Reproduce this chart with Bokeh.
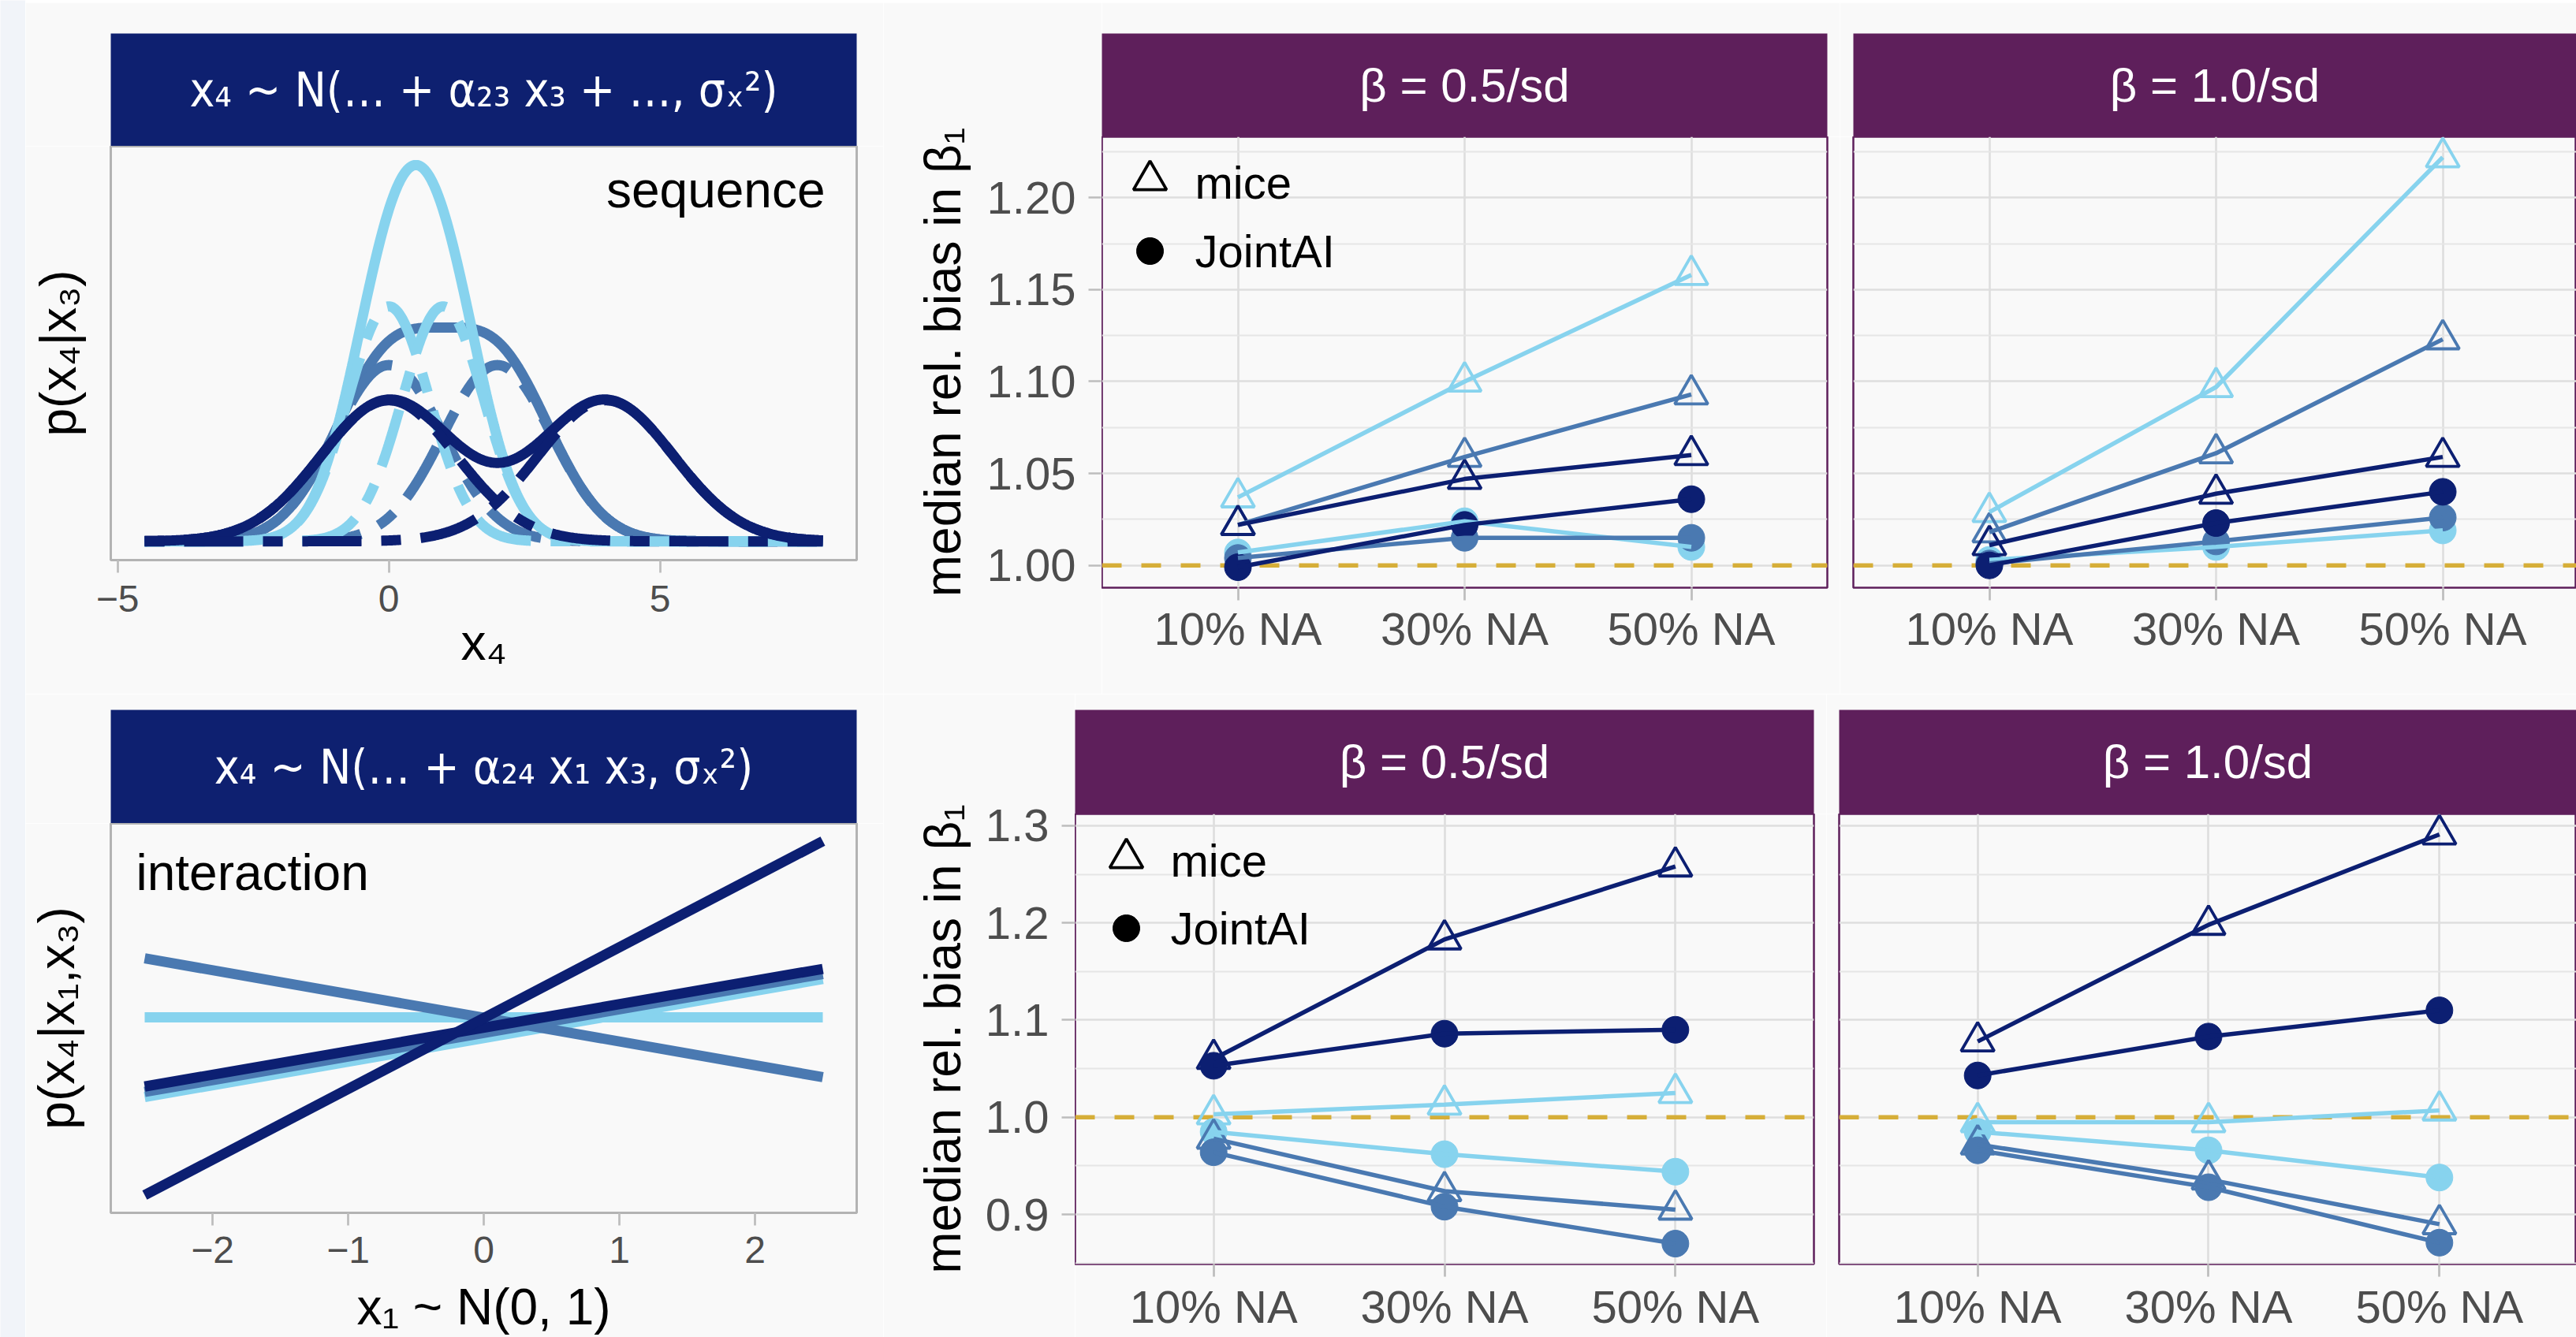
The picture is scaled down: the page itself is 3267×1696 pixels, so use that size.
import math
import numpy as np
from bokeh.plotting import figure
from bokeh.layouts import row, column
from bokeh.models import Range1d, FixedTicker, Span, Label, NumeralTickFormatter
from bokeh.embed import file_html
from bokeh.resources import INLINE

FONT = "Liberation Sans"
HFONT = "DejaVu Sans Condensed"
BG = "#f9f9f9"
LIGHT, MED, NAVY = "#87d3ee", "#4a79b1", "#0c1f72"
STRIP_NAVY, STRIP_PURPLE = "#0e2070", "#5e1f5b"
GOLD = "#d6ae38"
GRID_MAJOR, GRID_MINOR = "#dedede", "#e6e6e6"
TICK = "#bdbdbd"
TXT = "#4d4d4d"

# ---------------------------------------------------------------- data
na_labels = ["10% NA", "30% NA", "50% NA"]
na_pos = [1, 2, 3]

# sequence scenario, beta = 0.5/sd
seq05_mice_light = [1.037, 1.100, 1.158]
seq05_mice_med = [1.022, 1.059, 1.093]
seq05_mice_navy = [1.022, 1.047, 1.060]
seq05_joint_light = [1.007, 1.024, 1.010]
seq05_joint_med = [1.004, 1.015, 1.015]
seq05_joint_navy = [0.999, 1.022, 1.036]
# sequence scenario, beta = 1.0/sd
seq10_mice_light = [1.029, 1.097, 1.222]
seq10_mice_med = [1.018, 1.061, 1.123]
seq10_mice_navy = [1.011, 1.039, 1.059]
seq10_joint_light = [1.003, 1.010, 1.019]
seq10_joint_med = [1.001, 1.013, 1.026]
seq10_joint_navy = [1.000, 1.023, 1.040]
# interaction scenario, beta = 0.5/sd
int05_mice_light = [1.003, 1.013, 1.025]
int05_mice_med = [0.978, 0.924, 0.905]
int05_mice_navy = [1.060, 1.183, 1.258]
int05_joint_light = [0.985, 0.962, 0.944]
int05_joint_med = [0.964, 0.908, 0.870]
int05_joint_navy = [1.053, 1.086, 1.090]
# interaction scenario, beta = 1.0/sd
int10_mice_light = [0.995, 0.995, 1.007]
int10_mice_med = [0.972, 0.936, 0.890]
int10_mice_navy = [1.078, 1.198, 1.291]
int10_joint_light = [0.985, 0.966, 0.938]
int10_joint_med = [0.966, 0.928, 0.871]
int10_joint_navy = [1.043, 1.083, 1.110]

seq_yticks = [1.00, 1.05, 1.10, 1.15, 1.20]
int_yticks = [0.9, 1.0, 1.1, 1.2, 1.3]

# illustration "sequence": p(x4|x3) = 0.5 N(0, sd) + 0.5 N(shift, sd)
dens_shift = [1, 2, 4]          # light, medium, navy
dens_sd = [0.75, 1.0, 1.25]
dens_weight = [0.5, 0.5]
dens_xlim = [-4.5, 8.0]
seq_xticks = [-5, 0, 5]

# illustration "interaction": lines evaluated at x1 = -2.5 and 2.5
int_x1 = [-2.5, 2.5]
int_light_flat = [0.501, 0.501]
int_light_up = [0.297, 0.599]
int_med_down = [0.652, 0.348]
int_med_up = [0.310, 0.612]
int_navy_up = [0.324, 0.625]
int_navy_steep = [0.046, 0.952]
int_xticks = [-2, -1, 0, 1, 2]


def expand(lo, hi, f=0.05):
    r = hi - lo
    return lo - f * r, hi + f * r


def base_fig(width, height, xr, yr, left, right, top, bottom, yaxis=True, xaxis=True):
    p = figure(width=width, height=height, x_range=xr, y_range=yr,
               x_axis_location="below" if xaxis else None,
               y_axis_location="left" if yaxis else None,
               toolbar_location=None, output_backend="svg", title=None,
               min_border_left=left, min_border_right=right,
               min_border_top=top, min_border_bottom=bottom,
               background_fill_color=BG, border_fill_color=BG)
    return p


def blank(width, height, color):
    b = base_fig(width, height, Range1d(0, 1), Range1d(0, 1), 0, 0, 0, 0,
                 yaxis=False, xaxis=False)
    b.background_fill_color = color
    b.border_fill_color = color
    b.outline_line_color = None
    b.xgrid.visible = False
    b.ygrid.visible = False
    return b


def header(width, height, left, right, top, fill, text, size, font=FONT):
    h = base_fig(width, height, Range1d(0, 1), Range1d(0, 1), left, right, top, 0,
                 yaxis=False, xaxis=False)
    h.background_fill_color = fill
    h.outline_line_color = None
    h.xgrid.visible = False
    h.ygrid.visible = False
    h.add_layout(Label(x=0.5, y=0.5, text=text, text_align="center",
                       text_baseline="middle", text_color="white",
                       text_font_size=f"{size}px", text_font=font))
    return h


def style_axis_label(ax, text, standoff, size=64):
    ax.axis_label = text
    ax.axis_label_text_font = FONT
    ax.axis_label_text_font_size = f"{size}px"
    ax.axis_label_text_font_style = "normal"
    ax.axis_label_text_color = "black"
    ax.axis_label_standoff = standoff


def style_xaxis(ax, fsize, standoff):
    ax.axis_line_color = None
    ax.major_tick_line_color = TICK
    ax.major_tick_line_width = 2.7
    ax.major_tick_out = 16
    ax.major_tick_in = 0
    ax.minor_tick_line_color = None
    ax.major_label_text_font = FONT
    ax.major_label_text_font_size = f"{fsize}px"
    ax.major_label_text_color = TXT
    ax.major_label_standoff = standoff


def title_only_yaxis(p, text, standoff):
    ax = p.yaxis[0]
    ax.ticker = FixedTicker(ticks=[])
    ax.axis_line_color = None
    ax.major_tick_out = 0
    ax.major_tick_in = 0
    ax.minor_tick_out = 0
    ax.minor_tick_in = 0
    ax.major_label_standoff = 0
    style_axis_label(ax, text, standoff)


def y_ticker(yticks):
    step = yticks[1] - yticks[0]
    minors = [yticks[0] - step / 2] + [t + step / 2 for t in yticks]
    return FixedTicker(ticks=yticks, minor_ticks=minors)


def axis_column(width, height, top, bottom, yr, yticks, fmt, standoff):
    """Figure holding only the shared y axis (ticks, labels and title) of a bias row."""
    a = base_fig(width, height, Range1d(0, 1), yr, width - 1, 0, top, bottom, xaxis=False)
    a.outline_line_color = None
    a.grid.visible = False
    ax = a.yaxis[0]
    ax.ticker = y_ticker(yticks)
    ax.formatter = NumeralTickFormatter(format=fmt)
    ax.axis_line_color = None
    ax.major_tick_line_color = TICK
    ax.major_tick_line_width = 2.7
    ax.major_tick_out = 16
    ax.major_tick_in = 0
    ax.minor_tick_line_color = None
    ax.major_label_text_font = FONT
    ax.major_label_text_font_size = "58px"
    ax.major_label_text_color = TXT
    ax.major_label_standoff = 16
    style_axis_label(ax, "median rel. bias in β₁", standoff, size=64)
    return a


def bias_panel(width, height, right, bottom, frame_w, frame_h, x_end, yr,
               yticks, series, legend_off=None, xstandoff=4):
    p = base_fig(width, height, Range1d(0.4, x_end), yr, 0, right, 0, bottom, yaxis=False)
    p.outline_line_color = STRIP_PURPLE
    p.outline_line_width = 2.5
    p.ygrid.ticker = y_ticker(yticks)
    p.ygrid.grid_line_color = GRID_MAJOR
    p.ygrid.grid_line_width = 2.6
    p.ygrid.minor_grid_line_color = GRID_MINOR
    p.ygrid.minor_grid_line_width = 2.0
    xa = p.xaxis[0]
    xa.ticker = FixedTicker(ticks=na_pos)
    xa.major_label_overrides = {k: v for k, v in zip(na_pos, na_labels)}
    style_xaxis(xa, 58, xstandoff)
    p.xgrid.grid_line_color = GRID_MAJOR
    p.xgrid.grid_line_width = 2.6

    p.add_layout(Span(location=1.0, dimension="width", line_color=GOLD,
                      line_width=5.5, line_dash="25 25", level="underlay"))
    # points first, lines on top
    for mice, joint, col in series:
        p.scatter(na_pos, mice, marker="triangle", size=42, fill_color=None,
                  line_color=col, line_width=3.8)
        p.scatter(na_pos, joint, marker="circle", size=34, fill_color=col,
                  line_color=col)
    for mice, joint, col in series:
        p.line(na_pos, mice, line_color=col, line_width=5.5)
        p.line(na_pos, joint, line_color=col, line_width=5.5)

    ppx = frame_w / (x_end - 0.4)
    ppy = frame_h / (yr.end - yr.start)
    if legend_off is not None:
        lx, ly1, ly2, tx = legend_off
        p.scatter([0.4 + lx / ppx], [yr.end - ly1 / ppy], marker="triangle", size=42,
                  fill_color=None, line_color="black", line_width=3.8)
        p.scatter([0.4 + lx / ppx], [yr.end - ly2 / ppy], marker="circle", size=34,
                  fill_color="black", line_color="black")
        for txt, ly in (("mice", ly1 + 3), ("JointAI", ly2)):
            p.add_layout(Label(x=0.4 + tx / ppx, y=yr.end - ly / ppy, text=txt,
                               text_align="left", text_baseline="middle",
                               text_font=FONT, text_font_size="58px",
                               text_color="black"))
    return p


# ---------------------------------------------------------------- page decorations
strip = blank(32, 1696, "#f1f4f9")
topline = blank(3235, 3, "#c5cde2")

# ---------------------------------------------------------------- top row
TOP_H = 877
x = np.linspace(dens_xlim[0], dens_xlim[1], 626)
curves = []
for shift, sd in zip(dens_shift, dens_sd):
    c0 = dens_weight[0] * np.exp(-0.5 * (x / sd) ** 2) / (sd * math.sqrt(2 * math.pi))
    c1 = dens_weight[1] * np.exp(-0.5 * ((x - shift) / sd) ** 2) / (sd * math.sqrt(2 * math.pi))
    curves.append((c0, c1, c0 + c1))
ymax = max(float(c[2].max()) for c in curves)
tl_xr = expand(dens_xlim[0], dens_xlim[1])
tl_yr = expand(0.0, ymax)
L_W, L_LEFT, L_FW = 1088, 108, 946
hTL = header(L_W, 182, L_LEFT, 34, 39, STRIP_NAVY, "x₄ ~ N(… + α₂₃ x₃ + …, σₓ²)", 60,
             font=HFONT)
pTL = base_fig(L_W, TOP_H - 182, Range1d(*tl_xr), Range1d(*tl_yr), L_LEFT, 34, 0, 170)
pTL.outline_line_color = "#b3b3b3"
pTL.outline_line_width = 3
pTL.grid.visible = False
style_xaxis(pTL.xaxis[0], 48, 16)
pTL.xaxis[0].ticker = FixedTicker(ticks=seq_xticks)
pTL.xaxis[0].major_label_overrides = {t: str(t).replace("-", "−") for t in seq_xticks}
style_axis_label(pTL.xaxis[0], "x₄", 0)
title_only_yaxis(pTL, "p(x₄|x₃)", 31)
cols = [LIGHT, MED, NAVY]
for i in (1, 0, 2):
    c0, c1, tot = curves[i]
    pTL.line(x, tot, line_color=cols[i], line_width=13)
    pTL.line(x, c0, line_color=cols[i], line_width=13, line_dash="25 25 75 25")
    pTL.line(x, c1, line_color=cols[i], line_width=13, line_dash="25 25 75 25")
ppx = L_FW / (tl_xr[1] - tl_xr[0])
ppy = 525 / (tl_yr[1] - tl_yr[0])
pTL.add_layout(Label(x=tl_xr[1] - 40 / ppx, y=tl_yr[1] - 55 / ppy, text="sequence",
                     text_align="right", text_baseline="middle", text_font=FONT,
                     text_font_size="64px", text_color="black"))

seq_all = (seq05_mice_light + seq05_mice_med + seq05_mice_navy + seq05_joint_light +
           seq05_joint_med + seq05_joint_navy + seq10_mice_light + seq10_mice_med +
           seq10_mice_navy + seq10_joint_light + seq10_joint_med + seq10_joint_navy)
seq_yr = Range1d(*expand(min(seq_all), max(seq_all)))

aTM = axis_column(277, TOP_H, 170, 135, seq_yr, seq_yticks, "0.00", 17)
hTM = header(936, 170, 0, 16, 39, STRIP_PURPLE, "β = 0.5/sd", 60)
pTM = bias_panel(936, TOP_H - 170, 16, 135, 920, 572, 3.6, seq_yr, seq_yticks,
                 [(seq05_mice_light, seq05_joint_light, LIGHT),
                  (seq05_mice_med, seq05_joint_med, MED),
                  (seq05_mice_navy, seq05_joint_navy, NAVY)],
                 legend_off=(61, 55, 145, 118), xstandoff=3)
hTR = header(934, 170, 17, 0, 39, STRIP_PURPLE, "β = 1.0/sd", 60)
pTR = bias_panel(934, TOP_H - 170, 0, 135, 917, 572, 0.4 + 917 / 287.5, seq_yr,
                 seq_yticks,
                 [(seq10_mice_light, seq10_joint_light, LIGHT),
                  (seq10_mice_med, seq10_joint_med, MED),
                  (seq10_mice_navy, seq10_joint_navy, NAVY)], xstandoff=3)
pTR.min_border_left = 17

# ---------------------------------------------------------------- bottom row
BOT_H = 816
bl_xr = expand(int_x1[0], int_x1[1])
int_line_vals = int_light_flat + int_light_up + int_med_down + int_med_up + int_navy_up + int_navy_steep
bl_yr = expand(min(int_line_vals), max(int_line_vals))
hBL = header(L_W, 164, L_LEFT, 34, 20, STRIP_NAVY, "x₄ ~ N(… + α₂₄ x₁ x₃, σₓ²)", 60,
             font=HFONT)
pBL = base_fig(L_W, BOT_H - 164, Range1d(*bl_xr), Range1d(*bl_yr), L_LEFT, 34, 0, 157)
pBL.outline_line_color = "#b3b3b3"
pBL.outline_line_width = 3
pBL.grid.visible = False
style_xaxis(pBL.xaxis[0], 48, 14)
pBL.xaxis[0].ticker = FixedTicker(ticks=int_xticks)
pBL.xaxis[0].major_label_overrides = {t: str(t).replace("-", "−") for t in int_xticks}
style_axis_label(pBL.xaxis[0], "x₁ ~ N(0, 1)", 17)
title_only_yaxis(pBL, "p(x₄|x₁,x₃)", 33)
for vals, col in ((int_light_flat, LIGHT), (int_light_up, LIGHT), (int_med_down, MED),
                  (int_med_up, MED), (int_navy_up, NAVY), (int_navy_steep, NAVY)):
    pBL.line(int_x1, vals, line_color=col, line_width=13)
ppx = L_FW / (bl_xr[1] - bl_xr[0])
ppy = 495 / (bl_yr[1] - bl_yr[0])
pBL.add_layout(Label(x=bl_xr[0] + 32 / ppx, y=bl_yr[1] - 63 / ppy, text="interaction",
                     text_align="left", text_baseline="middle", text_font=FONT,
                     text_font_size="64px", text_color="black"))

int_all = (int05_mice_light + int05_mice_med + int05_mice_navy + int05_joint_light +
           int05_joint_med + int05_joint_navy + int10_mice_light + int10_mice_med +
           int10_mice_navy + int10_joint_light + int10_joint_med + int10_joint_navy)
int_yr = Range1d(*expand(min(int_all), max(int_all)))

aBM = axis_column(243, BOT_H, 152, 93, int_yr, int_yticks, "0.0", 15)
hBM = header(953, 152, 0, 16, 20, STRIP_PURPLE, "β = 0.5/sd", 60)
pBM = bias_panel(953, BOT_H - 152, 16, 93, 937, 571, 3.6, int_yr, int_yticks,
                 [(int05_mice_light, int05_joint_light, LIGHT),
                  (int05_mice_med, int05_joint_med, MED),
                  (int05_mice_navy, int05_joint_navy, NAVY)],
                 legend_off=(65, 56, 145, 121), xstandoff=5)
hBR = header(951, 152, 16, 0, 20, STRIP_PURPLE, "β = 1.0/sd", 60)
pBR = bias_panel(951, BOT_H - 152, 0, 93, 935, 571, 0.4 + 935 / 292.8, int_yr,
                 int_yticks,
                 [(int10_mice_light, int10_joint_light, LIGHT),
                  (int10_mice_med, int10_joint_med, MED),
                  (int10_mice_navy, int10_joint_navy, NAVY)], xstandoff=5)
pBR.min_border_left = 16

top = row(column(hTL, pTL), aTM, column(hTM, pTM), column(hTR, pTR))
bot = row(column(hBL, pBL), aBM, column(hBM, pBM), column(hBR, pBR))
p = row(strip, column(topline, top, bot))

open("out.html", "w").write(file_html(p, INLINE))
